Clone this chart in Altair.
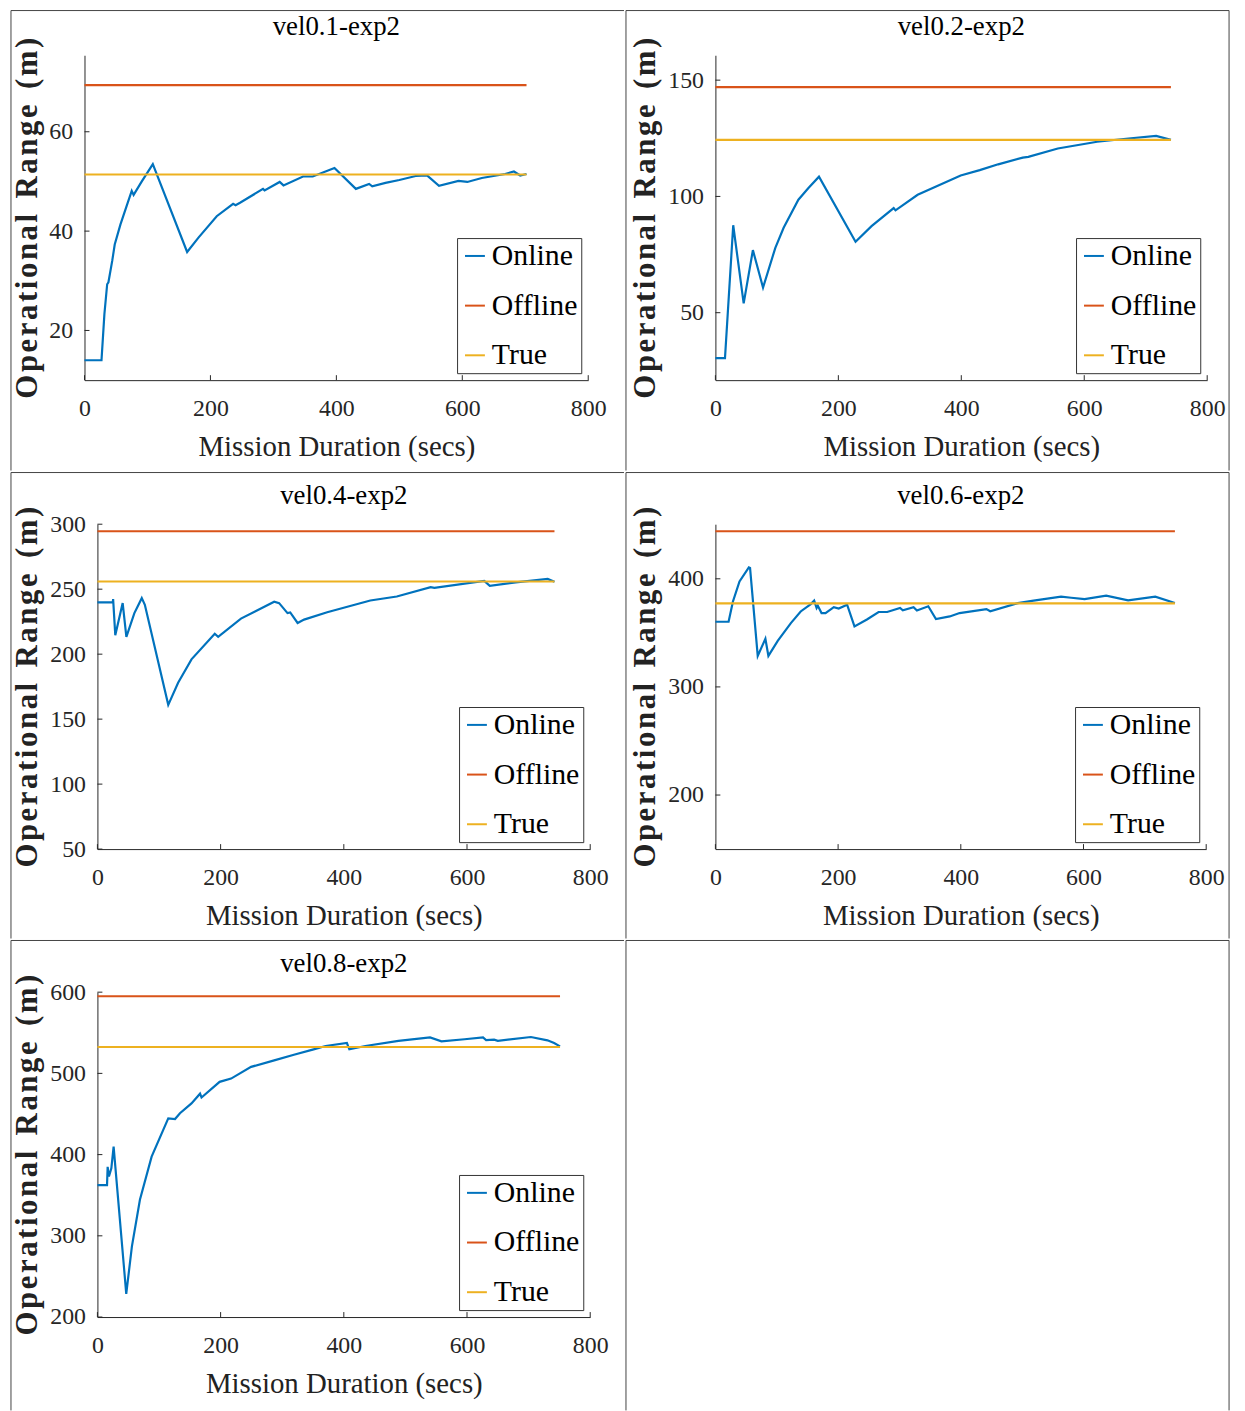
import altair as alt
import pandas as pd

FONT = "Liberation Serif"
AX = "#262626"
BORDER = "#444"

SERIES = ["Online", "Offline", "True"]
COLORS = ["#0072BD", "#D95319", "#EDB120"]
X_TICKS = [0, 200, 400, 600, 800]

titles = ["vel0.1-exp2", "vel0.2-exp2", "vel0.4-exp2", "vel0.6-exp2", "vel0.8-exp2"]
X_TITLE = "Mission Duration (secs)"
Y_TITLE = "Operational Range (m)"

p1_x = [0, 27, 31.6, 36, 38, 44, 48, 57, 67.5, 75, 78, 91, 108.5, 163, 181, 210, 236, 240, 247,
        283.5, 286, 310, 316, 347, 362.5, 397, 431, 452, 457, 478, 500, 526, 544, 563, 594, 608,
        631, 668, 682, 692, 702]
p1_y = [14, 14, 23.3, 29.3, 29.7, 34, 37.3, 41.3, 45.3, 48.1, 47.3, 50, 53.5, 35.8, 38.7, 43, 45.5,
        45.2, 45.7, 48.5, 48.2, 49.9, 49.2, 51, 51, 52.7, 48.5, 49.5, 49, 49.7, 50.3, 51.1, 51.2,
        49.1, 50.1, 49.9, 50.7, 51.5, 52, 51.2, 51.5]

p2_x = [0, 15.6, 29, 46, 61, 77.5, 97.5, 111, 135, 151, 168.5, 228, 254, 290, 293, 329, 399, 430,
        460, 500, 509, 557, 621, 672, 717, 741]
p2_y = [30.5, 30.5, 87.6, 54, 76.9, 60.8, 77.9, 86.5, 98.6, 103.5, 108.5, 80.5, 87.2, 95, 94,
        100.7, 109, 111.3, 113.8, 116.7, 117, 120.6, 123.5, 124.9, 126, 124.3]

p3_x = [0, 25, 25.5, 29, 41, 47, 60, 72, 77, 115, 131, 152.7, 190.5, 196, 233, 287, 295, 308.6,
        313, 325, 335.5, 373, 443, 486, 541, 547, 628, 637, 679, 731, 742]
p3_y = [239.8, 239.8, 242.3, 214.6, 239.3, 213.3, 231.6, 243.1, 238, 161, 178, 196, 215.7, 213.4,
        227.4, 240.4, 239.3, 231.6, 232.1, 224, 226.6, 232.2, 241.3, 244.4, 251.5, 251, 256.4,
        252.6, 255.3, 257.9, 255.8]

p4_x = [0, 21.5, 28.6, 39.3, 54.5, 56.5, 69, 81.5, 86.4, 101.6, 123, 139, 155.5, 161, 165, 167,
        173, 179.5, 193, 201, 214.7, 226.7, 247, 266, 280, 301, 305.5, 323, 328.5, 347, 359.5,
        382, 398, 441.8, 448, 493, 518.6, 563.4, 580, 601.8, 637, 672.7, 717, 749]
p4_y = [360.3, 360.3, 379, 397.5, 410.6, 410, 328.7, 344.5, 328.7, 342.5, 359, 369.8, 376.6,
        379.8, 373, 375, 368.3, 368.3, 373.8, 372.5, 376, 356, 362.4, 369.3, 369.3, 373, 370.8,
        373.8, 370.6, 374.6, 362.8, 365.2, 368.3, 372, 370, 377.5, 379.8, 383.5, 382.5, 381.2,
        384.4, 380, 383.5, 377.6]

p5_x = [0, 15.6, 16.6, 18.7, 22.6, 26.3, 46.8, 56, 69, 88, 115, 126, 134, 152.7, 166.6, 169,
        198.4, 217, 249.5, 287, 319, 351, 370.5, 405, 409, 435, 488.7, 540, 558.5, 596, 626, 631,
        644, 650, 703.7, 730.6, 741.4, 751]
p5_y = [362.4, 362.4, 385, 373, 383, 409.8, 228.6, 287, 344.4, 397.5, 444.6, 443.8, 451, 463,
        475, 470.3, 489.6, 493.6, 508, 516, 523, 529.6, 533.7, 537.4, 529.6, 533.7, 540, 544.2,
        539.4, 542, 544.2, 541, 541.5, 540, 544.8, 540.7, 537.4, 533.3]

online_x = [p1_x, p2_x, p3_x, p4_x, p5_x]
online_y = [p1_y, p2_y, p3_y, p4_y, p5_y]
offline_vals = [69.4, 147, 294.6, 444, 595]
true_vals = [51.4, 124.3, 255.9, 377.3, 532.5]
end_times = [702, 741, 742, 749, 751]
y_domains = [[10, 75.4], [21, 160.7], [50, 300], [150, 450.5], [200, 600]]
y_ticks = [[20, 40, 60], [50, 100, 150], [50, 100, 150, 200, 250, 300],
           [200, 300, 400], [200, 300, 400, 500, 600]]

# letter-spaced y title (hair spaces between letters, wider gaps between words)
y_title_spaced = "\u00a0\u00a0".join("\u200a".join(word) for word in Y_TITLE.split(" "))

# layout per panel: plot width, left, right, top, bottom margins (cell border), y-title x,
# and whether the cell draws its right border
H = 327
geom = [
    (507, 74, 36, 45, 91, -41, False),
    (495, 90, 22, 45, 91, -54, True),
    (496, 87, 34, 52, 90, -54, False),
    (494, 90, 23, 52, 90, -54, True),
    (496, 87, 34, 52, 94, -54, False),
]

ONE = pd.DataFrame({"a": [0]})


def borders(l, w, r, t, b, right):
    base = alt.Chart(ONE).mark_rule(color=BORDER, strokeWidth=1, clip=False)
    parts = [
        base.encode(x=alt.value(-l), y=alt.value(-t), y2=alt.value(H + b)),
        base.encode(x=alt.value(-l), x2=alt.value(w + r), y=alt.value(-t)),
    ]
    if right:
        parts.append(base.encode(x=alt.value(w + r), y=alt.value(-t), y2=alt.value(H + b)))
    return parts


def panel(i):
    rows = [{"x": xv, "y": yv, "s": "Online"} for xv, yv in zip(online_x[i], online_y[i])]
    rows += [{"x": 0, "y": offline_vals[i], "s": "Offline"},
             {"x": end_times[i], "y": offline_vals[i], "s": "Offline"},
             {"x": 0, "y": true_vals[i], "s": "True"},
             {"x": end_times[i], "y": true_vals[i], "s": "True"}]
    df = pd.DataFrame(rows)
    w, l, r, t, b, tx, right = geom[i]

    xscale = alt.Scale(domain=[0, 800], nice=False, zero=False)
    yscale = alt.Scale(domain=y_domains[i], nice=False, zero=False)
    xaxis = alt.Axis(
        values=X_TICKS, title=X_TITLE, ticks=False, tickSize=0,
        labelPadding=17, labelFont=FONT, labelFontSize=24, labelColor=AX,
        labelFlush=False, labelOverlap=False, domainColor=AX, grid=False,
        titleFont=FONT, titleFontSize=29, titleFontWeight="normal", titleColor="#222",
        titleY=67, titleBaseline="middle")
    yaxis = alt.Axis(
        values=y_ticks[i], title=y_title_spaced,
        ticks=False, tickSize=0, labelPadding=12, labelFont=FONT, labelFontSize=24,
        labelColor=AX, labelFlush=False, labelOverlap=False, domainColor=AX, grid=False,
        titleFont=FONT, titleFontSize=31, titleFontWeight="bold", titleColor="#222",
        titleX=tx)

    lines = alt.Chart(df).mark_line(strokeWidth=2.2).encode(
        x=alt.X("x:Q", scale=xscale, axis=xaxis),
        y=alt.Y("y:Q", scale=yscale, axis=yaxis),
        color=alt.Color("s:N", scale=alt.Scale(domain=SERIES, range=COLORS),
                        legend=alt.Legend(title=None, orient="bottom-right", offset=7,
                                          symbolType="stroke", symbolSize=400,
                                          symbolStrokeWidth=2, labelFont=FONT,
                                          labelFontSize=30, labelColor="black",
                                          labelOffset=2, rowPadding=20, padding=3,
                                          strokeColor="#333", fillColor="white",
                                          labelLimit=200)),
    )

    xt = alt.Chart(pd.DataFrame({"x": X_TICKS})).mark_rule(color=AX, strokeWidth=1).encode(
        x=alt.X("x:Q", scale=xscale, axis=xaxis), y=alt.value(H), y2=alt.value(H - 5))
    yt = alt.Chart(pd.DataFrame({"y": y_ticks[i]})).mark_rule(color=AX, strokeWidth=1).encode(
        y=alt.Y("y:Q", scale=yscale, axis=yaxis), x=alt.value(0), x2=alt.value(5))

    title = alt.Chart(ONE).mark_text(
        text=titles[i], font=FONT, fontSize=27, baseline="bottom", align="center",
        color="black").encode(x=alt.value(w / 2), y=alt.value(-14))

    return alt.layer(*borders(l, w, r, t, b, right), lines, xt, yt, title).properties(
        width=w, height=H)


def spacer():
    return alt.Chart(ONE).mark_rect(opacity=0).encode(
        x=alt.value(0), x2=alt.value(0), y=alt.value(0), y2=alt.value(0)
    ).properties(width=1, height=1)


EMPTY_W = 607
empty = alt.layer(*borders(0, EMPTY_W, 0, 52, 94, True)).properties(width=EMPTY_W, height=H)


def row(*cells):
    return alt.hconcat(spacer(), *cells, spacing=0).resolve_scale(
        color="independent", x="independent", y="independent")


chart = alt.vconcat(
    row(panel(0), panel(1)),
    row(panel(2), panel(3)),
    row(panel(4), empty),
    spacing=0,
).resolve_scale(color="independent", x="independent", y="independent").properties(
    autosize=alt.AutoSizeParams(type="none"),
    padding={"left": 0, "top": 43, "right": 1237, "bottom": 1360},
).configure_view(stroke="transparent")

chart.save("out.html", embed_options={"renderer": "svg", "actions": False})
